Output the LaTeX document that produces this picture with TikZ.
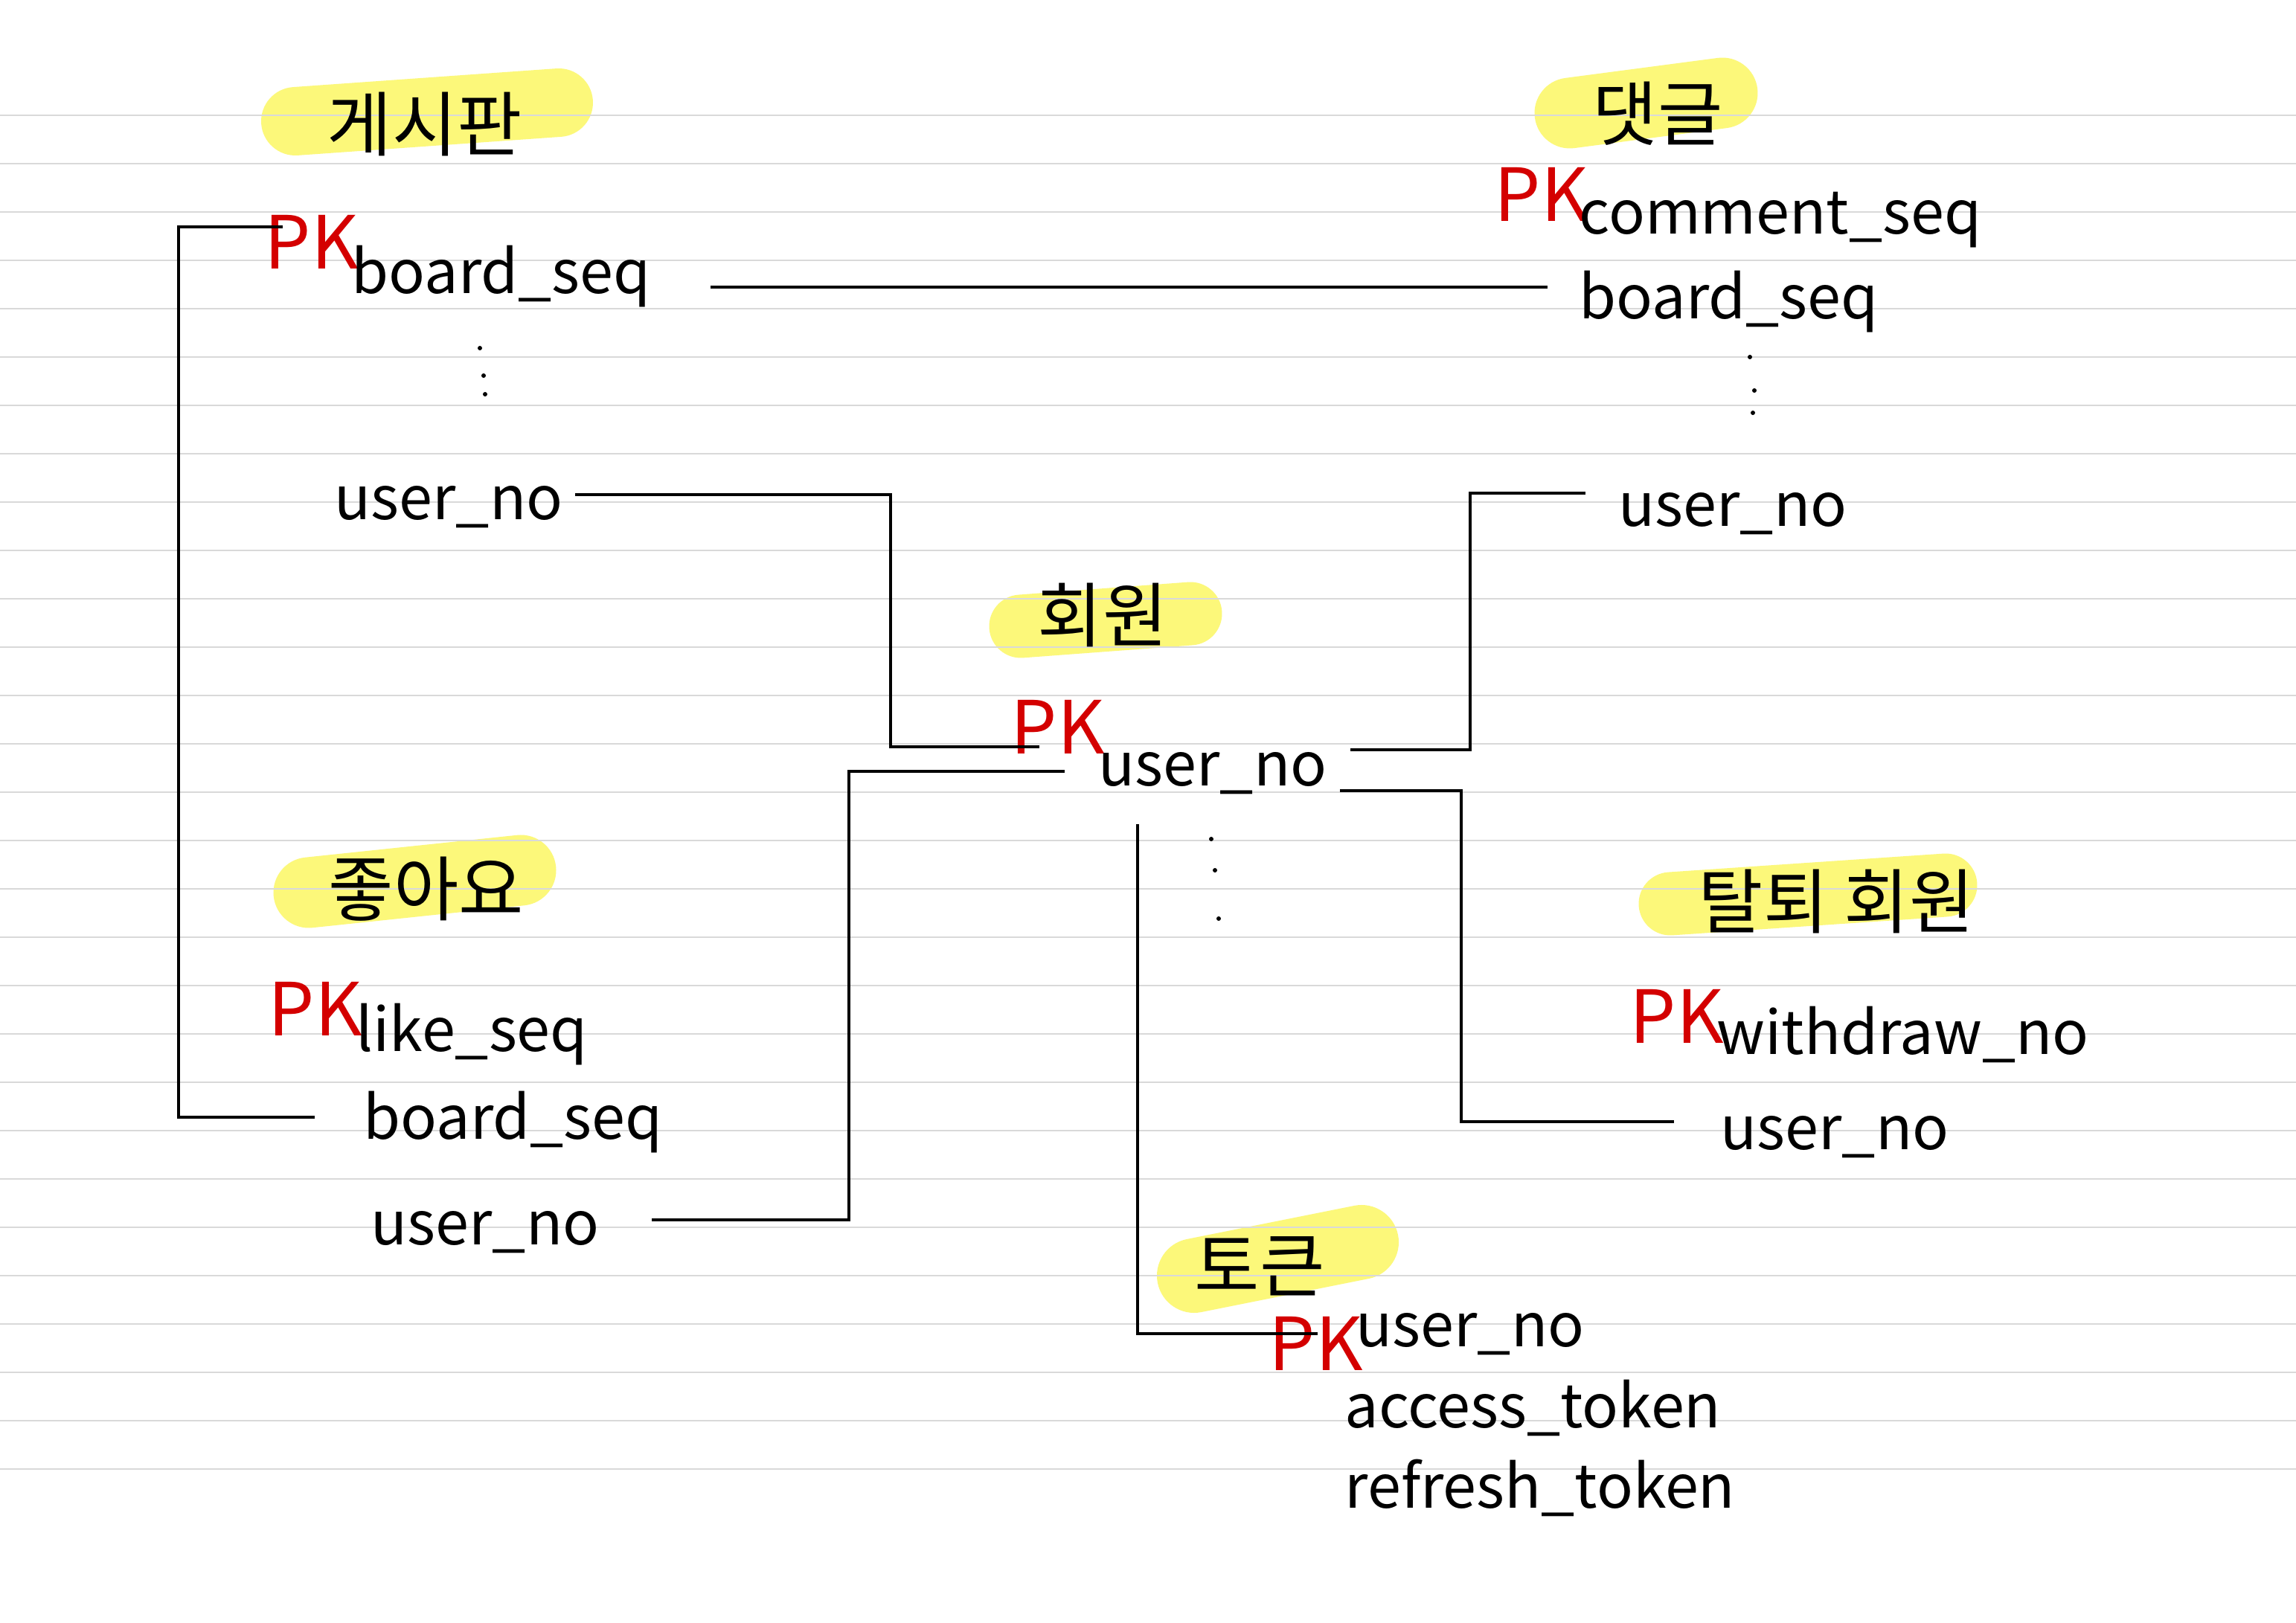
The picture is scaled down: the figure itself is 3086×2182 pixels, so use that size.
\documentclass[tikz,border=0pt]{standalone}
\usepackage{fontspec}
\setmainfont{Noto Sans CJK KR}
\definecolor{hly}{HTML}{FCF87A}
\definecolor{pkred}{HTML}{D40000}
\definecolor{rulegray}{HTML}{D9D9D9}
\begin{document}
\begin{tikzpicture}[x=0.01cm,y=-0.01cm,
  hl/.style={draw=hly,line cap=round,line width=#1*0.01cm},
  fld/.style={anchor=base west,inner sep=0pt,font=\fontsize{23}{28}\selectfont},
  pk/.style={anchor=base west,inner sep=0pt,text=pkred,font=\fontsize{28}{32}\selectfont},
  ttl/.style={inner sep=0pt,font=\fontsize{27}{32}\selectfont},
  dotmark/.style={fill=black,circle,inner sep=0pt,minimum size=0.06cm},
  conn/.style={line width=1.2pt,black},
  rulestyle/.style={draw=rulegray,line width=0.8pt}]
\fill[white] (0,0) rectangle (3086,2182);
\useasboundingbox (0,0) rectangle (3086,2182);
% highlights
\draw[hl=92] (397,163) -- (751,138);
\draw[hl=95] (2110,152) -- (2315,125);
\draw[hl=85] (1372,842) -- (1600,825);
\draw[hl=95] (415,1200) -- (700,1170);
\draw[hl=85] (2245,1215) -- (2615,1190);
\draw[hl=100] (1605,1715) -- (1830,1670);
% ruled lines
\foreach \k in {0,...,28} \draw[rulestyle] (0,{155+65*\k}) -- (3086,{155+65*\k});
% titles
\node[ttl] (tBoard) at (571,167) {게시판};
\node[ttl] (tComment) at (2228,153) {댓글};
\node[ttl] (tMember) at (1482,827) {회원};
\node[ttl] (tLike) at (573,1195) {좋아요};
\node[ttl] (tWithdraw) at (2468,1212) {탈퇴 회원};
\node[ttl] (tToken) at (1693,1702) {토큰};
% board
\node[pk] (pkBoard) at (355,362) {PK};
\node[fld] (bSeq) at (472,395) {board\_seq};
\node[dotmark] (bDot1) at (645,468) {};
\node[dotmark] (bDot2) at (650,505) {};
\node[dotmark] (bDot3) at (652,530) {};
\node[fld] (bUser) at (449,699) {user\_no};
% comment
\node[pk] (pkComment) at (2008,298) {PK};
\node[fld] (cSeq) at (2122,315) {comment\_seq};
\node[fld] (cBoard) at (2122,429) {board\_seq};
\node[dotmark] (cDot1) at (2352,480) {};
\node[dotmark] (cDot2) at (2358,525) {};
\node[dotmark] (cDot3) at (2356,555) {};
\node[fld] (cUser) at (2175,708) {user\_no};
% member
\node[pk] (pkMember) at (1358,1013) {PK};
\node[fld] (mUser) at (1476,1057) {user\_no};
\node[dotmark] (mDot1) at (1628,1128) {};
\node[dotmark] (mDot2) at (1633,1170) {};
\node[dotmark] (mDot3) at (1638,1235) {};
% like
\node[pk] (pkLike) at (360,1392) {PK};
\node[fld] (lSeq) at (478,1413) {like\_seq};
\node[fld] (lBoard) at (488,1531) {board\_seq};
\node[fld] (lUser) at (498,1673) {user\_no};
% withdraw
\node[pk] (pkWithdraw) at (2190,1402) {PK};
\node[fld] (wNo) at (2307,1417) {withdraw\_no};
\node[fld] (wUser) at (2312,1545) {user\_no};
% token
\node[pk] (pkToken) at (1705,1842) {PK};
\node[fld] (kUser) at (1822,1810) {user\_no};
\node[fld] (kAccess) at (1807,1919) {access\_token};
\node[fld] (kRefresh) at (1807,2027) {refresh\_token};
% connector ends
\coordinate (e1a) at (380,305);
\coordinate (e1b) at (423,1502);
\coordinate (k1) at (240,305);
\coordinate (k2) at (240,1502);
\coordinate (e2a) at (955,386);
\coordinate (e2b) at (2080,386);
\coordinate (e3a) at (773,665);
\coordinate (e3b) at (1397,1004);
\coordinate (e4a) at (876,1640);
\coordinate (e4b) at (1431,1037);
\coordinate (e5a) at (2131,663);
\coordinate (e5b) at (1815,1008);
\coordinate (e6a) at (2250,1508);
\coordinate (e6b) at (1801,1063);
\coordinate (e7a) at (1529,1108);
\coordinate (e7b) at (1771,1793);
\draw[conn] (e1a) -- (k1) -- (k2) -- (e1b);
\draw[conn] (e2a) -- (e2b);
\draw[conn] (e3a) -- (1197,665) |- (e3b);
\draw[conn] (e4a) -- (1141,1640) |- (e4b);
\draw[conn] (e5a) -- (1976,663) |- (e5b);
\draw[conn] (e6a) -- (1964,1508) |- (e6b);
\draw[conn] (e7a) |- (e7b);
\end{tikzpicture}
\end{document}
